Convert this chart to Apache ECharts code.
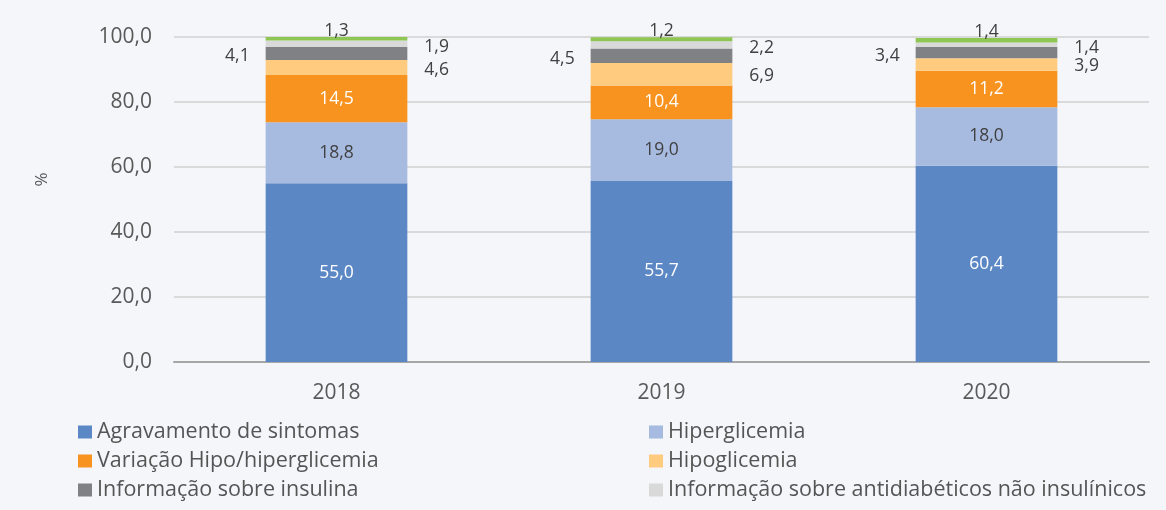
<!DOCTYPE html>
<html>
<head>
<meta charset="utf-8">
<script src="https://cdn.jsdelivr.net/npm/echarts@6/dist/echarts.min.js"></script>
<style>html,body{margin:0;padding:0;background:#f5f6fa;}#c{width:1166px;height:510px;}</style>
</head>
<body>
<div id="c"></div>
<script>
const categories = ['2018', '2019', '2020'];
const agravamento = [55.0, 55.7, 60.4];
const hiperglicemia = [18.8, 19.0, 18.0];
const variacao = [14.5, 10.4, 11.2];
const hipoglicemia = [4.6, 6.9, 3.9];
const insulina = [4.1, 4.5, 3.4];
const antidiabeticos = [1.9, 2.2, 1.4];
const outros = [1.3, 1.2, 1.4];
const yTicks = [0, 20, 40, 60, 80, 100];

const fmt = p => p.value.toFixed(1).replace('.', ',');
const font = '"Open Sans", "Noto Sans", sans-serif';
const dark = '#404040';

function mk(name, data, color, label) {
  return {
    name, type: 'bar', stack: 'total', data, barWidth: '43.6%',
    itemStyle: { color },
    label: Object.assign({ show: true, formatter: fmt, fontFamily: font, fontSize: 17.5 }, label)
  };
}

const legendText = { color: '#555', fontSize: 21.5, fontFamily: font, lineHeight: 22 };

const chart = echarts.init(document.getElementById('c'));
chart.setOption({
  backgroundColor: '#f5f6fa',
  animation: false,
  grid: { left: 174, right: 17, top: 37, bottom: 148 },
  xAxis: {
    type: 'category', data: categories,
    axisLine: { lineStyle: { color: '#a6a6a6', width: 2 } },
    axisTick: { show: false },
    axisLabel: { color: '#595959', fontSize: 21, fontFamily: font, margin: 21 }
  },
  yAxis: {
    type: 'value', min: yTicks[0], max: yTicks[yTicks.length - 1], interval: 20,
    name: '%', nameLocation: 'middle', nameRotate: 90, nameGap: 123,
    nameTextStyle: { color: '#595959', fontSize: 17, fontFamily: font, padding: [0, 0, 0, 40] },
    axisLine: { show: false }, axisTick: { show: false },
    axisLabel: { color: '#595959', fontSize: 21, fontFamily: font, margin: 22,
      formatter: v => v.toFixed(1).replace('.', ',') },
    splitLine: { lineStyle: { color: '#dadada', width: 2 } }
  },
  legend: [
    { data: ['Agravamento de sintomas', 'Variação Hipo/hiperglicemia', 'Informação sobre insulina'],
      orient: 'vertical', left: 78, top: 421, itemWidth: 14, itemHeight: 13, itemGap: 7, icon: 'rect',
      padding: 0, textStyle: legendText },
    { data: ['Hiperglicemia', 'Hipoglicemia', 'Informação sobre antidiabéticos não insulínicos'],
      orient: 'vertical', left: 649, top: 421, itemWidth: 14, itemHeight: 13, itemGap: 7, icon: 'rect',
      padding: 0, textStyle: legendText }
  ],
  series: [
    mk('Agravamento de sintomas', agravamento, '#5b87c5', { position: 'inside', color: '#fff' }),
    mk('Hiperglicemia', hiperglicemia, '#a7bbe1', { position: 'inside', color: dark }),
    mk('Variação Hipo/hiperglicemia', variacao, '#f7931e', { position: 'inside', color: '#fff' }),
    mk('Hipoglicemia', hipoglicemia, '#ffcc7f', { position: 'right', distance: 17, color: dark, offset: [0, 2] }),
    mk('Informação sobre insulina', insulina, '#808184', { position: 'left', distance: 16, color: dark, offset: [0, 3] }),
    mk('Informação sobre antidiabéticos não insulínicos', antidiabeticos, '#d9d9d9', { position: 'right', distance: 17, color: dark, offset: [0, 3] }),
    mk('Outros', outros, '#8dc652', { position: 'top', distance: -3, color: dark })
  ]
});
</script>
</body>
</html>
